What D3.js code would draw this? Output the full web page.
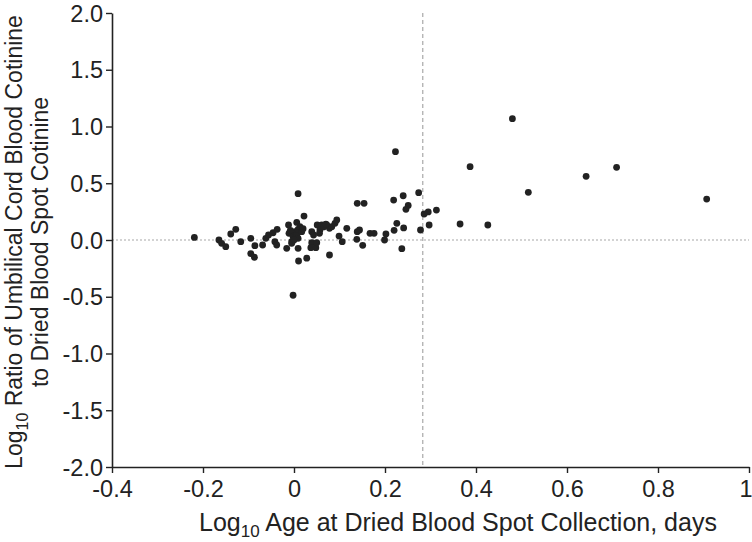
<!DOCTYPE html>
<html>
<head>
<meta charset="utf-8">
<script src="https://cdn.jsdelivr.net/npm/d3@7"></script>
<style>
  body { margin: 0; background: #fff; }
  svg { display: block; font-family: "Liberation Sans", Arial, Helvetica, sans-serif; }
</style>
</head>
<body>
<svg id="chart" width="752" height="542"></svg>
<script>
// Log10 age at dried blood spot collection (days)
const ageLog = [
  -0.219, -0.165, -0.159, -0.150, -0.139, -0.128, -0.117, -0.095, -0.086, -0.095,
  -0.087, -0.069, -0.062, -0.056, -0.046, -0.037, -0.042, -0.038, -0.016, -0.012,
   0.006, -0.011, -0.005, -0.002, -0.005,  0.002,  0.006,  0.009,  0.013,  0.017,
   0.009, -0.005,  0.009,  0.010,  0.028,  0.039,  0.043,  0.039,  0.037,  0.048,
   0.050,  0.051,  0.057,  0.061,  0.056,  0.072,  0.078,  0.083,  0.090,  0.094,
   0.099,  0.106,  0.116,  0.078,  0.138,  0.139,  0.022,  0.009, -0.002,  0.139,
   0.154,  0.144,  0.151,  0.167,  0.176,  0.199,  0.202,  0.223,  0.274,  0.240,
   0.219,  0.251,  0.246,  0.313,  0.295,  0.286,  0.297,  0.226,  0.241,  0.220,
   0.278,  0.237,  0.065,  0.070,  0.020, -0.008,  0.000,  0.365,  0.387,  0.426,
   0.480,  0.515,  0.642,  0.709,  0.907
];
// Log10 ratio of umbilical cord blood cotinine to dried blood spot cotinine
const ratioLog = [
   0.023,  0.000, -0.029, -0.059,  0.053,  0.094, -0.015,  0.015, -0.050, -0.120,
  -0.152, -0.044,  0.015,  0.044,  0.064,  0.094, -0.015, -0.044, -0.073,  0.132,
   0.155,  0.059,  0.059,  0.029, -0.015,  0.073,  0.044,  0.094,  0.117,  0.073,
   0.015, -0.029, -0.073, -0.185, -0.160,  0.073,  0.044, -0.024, -0.068, -0.068,
  -0.024,  0.132,  0.088,  0.132,  0.059,  0.132,  0.103,  0.117,  0.147,  0.176,
   0.035, -0.015,  0.103, -0.132,  0.006,  0.073,  0.211,  0.408, -0.487,  0.323,
   0.323,  0.088, -0.047,  0.059,  0.059,  0.000,  0.053,  0.778,  0.417,  0.390,
   0.352,  0.305,  0.270,  0.264,  0.247,  0.229,  0.132,  0.147,  0.106,  0.085,
   0.088, -0.076,  0.115,  0.140,  0.100,  0.085,  0.000,  0.141,  0.646,  0.132,
   1.069,  0.420,  0.561,  0.640,  0.361
];
const xTicks = [-0.4, -0.2, 0, 0.2, 0.4, 0.6, 0.8, 1];
const yTicks = [-2.0, -1.5, -1.0, -0.5, 0.0, 0.5, 1.0, 1.5, 2.0];
const xDomain = [-0.4, 1];
const yDomain = [-2, 2];
const cutoffX = 0.283;

const svg = d3.select("#chart");
const margin = { left: 112, right: 3, top: 13, bottom: 75 };
const W = 752, H = 542;
const FS = 23.5;
const x = d3.scaleLinear().domain(xDomain).range([margin.left, W - margin.right]);
const y = d3.scaleLinear().domain(yDomain).range([H - margin.bottom, margin.top]);

// reference lines
svg.append("line")
  .attr("x1", x(xDomain[0])).attr("x2", x(xDomain[1]))
  .attr("y1", y(0)).attr("y2", y(0))
  .attr("stroke", "#a8a8a8").attr("stroke-width", 1.2).attr("stroke-dasharray", "2,2");
svg.append("line")
  .attr("x1", x(cutoffX)).attr("x2", x(cutoffX))
  .attr("y1", y(yDomain[1])).attr("y2", y(yDomain[0]))
  .attr("stroke", "#a8a8a8").attr("stroke-width", 1.2).attr("stroke-dasharray", "4,3");

// axes
const xAxis = svg.append("g")
  .attr("transform", `translate(0,${y(yDomain[0])})`)
  .call(d3.axisBottom(x).tickValues(xTicks).tickSize(6).tickSizeOuter(0).tickPadding(7));
const yAxis = svg.append("g")
  .attr("transform", `translate(${x(xDomain[0])},0)`)
  .call(d3.axisLeft(y).tickValues(yTicks).tickSize(6).tickSizeOuter(0).tickPadding(3));
[xAxis, yAxis].forEach(g => {
  g.select(".domain").attr("stroke", "#222").attr("stroke-width", 1.6);
  g.selectAll(".tick line").attr("stroke", "#222").attr("stroke-width", 1.4);
  g.selectAll(".tick text").attr("fill", "#222").style("font-size", FS + "px").style("font-family", "'Liberation Sans', Arial, sans-serif");
});
yAxis.selectAll(".tick text").attr("dy", "0.35em").text(d => d3.format(".1f")(d).replace("−", "-"));
xAxis.selectAll(".tick text").text(d => d === 0 ? "0" : (d === 1 ? "1" : d3.format(".1f")(d).replace("−", "-")))
  .filter(d => d === 1).attr("text-anchor", "end").attr("x", 3);

// points
const pts = ageLog.map((v, i) => ({ a: v, r: ratioLog[i] }));
svg.append("g").selectAll("circle").data(pts).join("circle")
  .attr("cx", d => x(d.a)).attr("cy", d => y(d.r)).attr("r", 3.4)
  .attr("fill", "#222");

// axis titles
const xt = svg.append("text").attr("x", 458).attr("y", 531).attr("text-anchor", "middle")
  .attr("fill", "#222").style("font-size", "25px");
xt.append("tspan").text("Log");
xt.append("tspan").attr("dy", 6).style("font-size", "17px").text("10");
xt.append("tspan").attr("dy", -6).text(" Age at Dried Blood Spot Collection, days");

const yt = svg.append("text").attr("transform", `translate(22,${242}) rotate(-90)`).attr("text-anchor", "middle")
  .attr("fill", "#222").style("font-size", "23px");
yt.append("tspan").text("Log");
yt.append("tspan").attr("dy", 6).style("font-size", "16px").text("10");
yt.append("tspan").attr("dy", -6).text(" Ratio of Umbilical Cord Blood Cotinine");
svg.append("text").attr("transform", `translate(48,${242}) rotate(-90)`).attr("text-anchor", "middle")
  .attr("fill", "#222").style("font-size", "23px").text("to Dried Blood Spot Cotinine");
</script>
</body>
</html>
